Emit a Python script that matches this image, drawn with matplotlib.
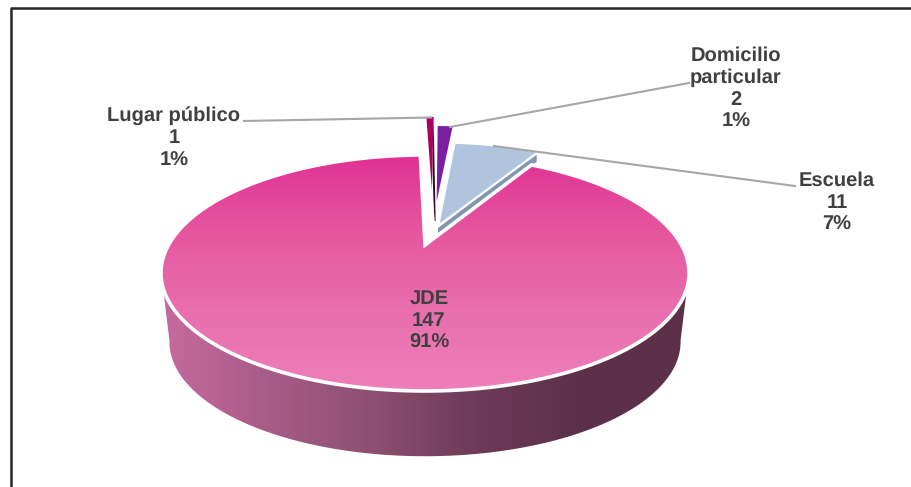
import numpy as np
import matplotlib
matplotlib.use("Agg")
import matplotlib.pyplot as plt
from matplotlib.colors import LinearSegmentedColormap
from matplotlib.patches import Polygon

plt.rcParams["font.family"] = ["Liberation Sans", "DejaVu Sans"]
plt.rcParams["text.hinting"] = "no_hinting"

# data, clockwise from JDE
names = ["JDE", "Lugar público", "Domicilio\nparticular", "Escuela"]
values = [147, 1, 2, 11]
percents = ["91%", "1%", "1%", "7%"]

START_ANGLE = 30.0
CX, APEX_Y = 425.0, 245.0
TILT_A, TILT_B, TILT_C = 111.4, 256.5, 0.237
BASE_CY, TOP_CY, BASE_SCALE = 342.0, 273.0, 0.968


# disc coordinates -> pixels, perspective view of the pie top
def project(u, v):
    w = 1 + TILT_C * v
    return CX + TILT_B * u / w, APEX_Y - TILT_A * v / w


def to_base(x, y):
    return CX + (x - CX) * BASE_SCALE, BASE_CY + (y - TOP_CY) * BASE_SCALE


def slice_face(a0, a1, off):
    t = np.radians(np.linspace(a0, a1, 300))
    u = np.r_[off[0], off[0] + np.sin(t)]
    v = np.r_[off[1], off[1] + np.cos(t)]
    x, y = project(u, v)
    return np.column_stack([x, y])


def gradient_fill(ax, verts, colors, extent, horizontal=False, zorder=1):
    cmap = LinearSegmentedColormap.from_list("g", colors)
    grad = np.linspace(0, 1, 256)
    grad = grad[None, :] if horizontal else grad[:, None]
    im = ax.imshow(grad, cmap=cmap, extent=extent, aspect="auto", zorder=zorder)
    patch = Polygon(verts, closed=True, transform=ax.transData, fc="none", ec="none")
    ax.add_patch(patch)
    im.set_clip_path(patch)


fig = plt.figure(figsize=(9.11, 4.87), dpi=100)
ax = fig.add_axes([0, 0, 1, 1])

# slice angles from the values
total = sum(values)
spans = [360.0 * val / total for val in values]
angles = START_ANGLE + np.r_[0, np.cumsum(spans)]

# -------------------------
# JDE outer wall and face
# -------------------------
jde = slice_face(angles[0], angles[1], (0, 0))
# widest points of the face, round the front
t_rim = np.radians(np.linspace(103.0, 257.0, 300))
rim_x, rim_y = project(np.sin(t_rim), np.cos(t_rim))
base_x, base_y = to_base(rim_x, rim_y)
wall = np.column_stack([np.r_[rim_x, base_x[::-1]], np.r_[rim_y, base_y[::-1]]])
gradient_fill(ax, wall,
              ["#5c3049", "#5c3049", "#6d3a57", "#8d5070", "#a85c88", "#c66a9e"],
              (689, 161, 470, 260), horizontal=True, zorder=1)

gradient_fill(ax, jde, ["#e02f94", "#e5569f", "#e96fae", "#ee80bb"],
              (155, 695, 395, 150), zorder=5)
ax.add_patch(Polygon(jde, closed=True, fc="none", ec="white", lw=2.6, zorder=6))

# -------------------------
# Lugar publico, thin slice with dark wall
# -------------------------
lp_off = (0.03, 0.58)
lp = slice_face(angles[1], angles[2], lp_off)
ax.add_patch(Polygon([lp[0], lp[-1], [lp[-1][0] + 2, 221], [lp[0][0] + 3, 221]],
                     closed=True, fc="#3a0a2c", ec="none", zorder=2))
ax.plot([430.5, 433.5], [132, 219], color="white", lw=0.9, zorder=2.5)
ax.add_patch(Polygon(lp, closed=True, fc="#a8005f", ec="none", zorder=3))

# -------------------------
# Domicilio particular
# -------------------------
dp_off = (0.05, 0.43)
dp = slice_face(angles[2], angles[3], dp_off)
ax.add_patch(Polygon(dp, closed=True, fc="#7b1fa2", ec="none", zorder=2))

# -------------------------
# Escuela, wall shows only as a thin band
# -------------------------
es_off = (0.053, 0.178)
es = slice_face(angles[3], angles[4], es_off)
apex, tip = es[0], es[-1]
ax.add_patch(Polygon([[apex[0], apex[1] + 2], [tip[0] - 2, tip[1] + 1],
                      [tip[0] - 2, tip[1] + 10], [apex[0], apex[1] + 9]],
                     closed=True, fc="#8296b0", ec="none", zorder=3.5))
ax.add_patch(Polygon(es, closed=True, fc="#b0c4e0", ec="white", lw=1.6, zorder=4))

# -------------------------
# Labels and leader lines
# -------------------------
ax.plot([244, 431], [121, 117.5], color="#a6a6a6", lw=1.5, zorder=7)
ax.plot([450, 689], [127, 83], color="#a6a6a6", lw=1.5, zorder=7)
ax.plot([494, 795], [146, 186], color="#a6a6a6", lw=1.5, zorder=7)

label_pos = [(429, 321), (174, 138), (736, 88.5), (837, 203)]
for name, val, pct, pos in zip(names, values, percents, label_pos):
    ax.text(pos[0], pos[1], f"{name}\n{val}\n{pct}", ha="center", va="center",
            fontsize=14.5, fontweight="bold", color="#404040", linespacing=1.235, zorder=8)

# chart frame
ax.plot([10.5, 10.5, 911], [487, 7.5, 7.5], color="#262626", lw=1.8, zorder=9)

ax.set_xlim(0, 911)
ax.set_ylim(487, 0)
ax.axis("off")

fig.savefig("out.png", dpi=100)
